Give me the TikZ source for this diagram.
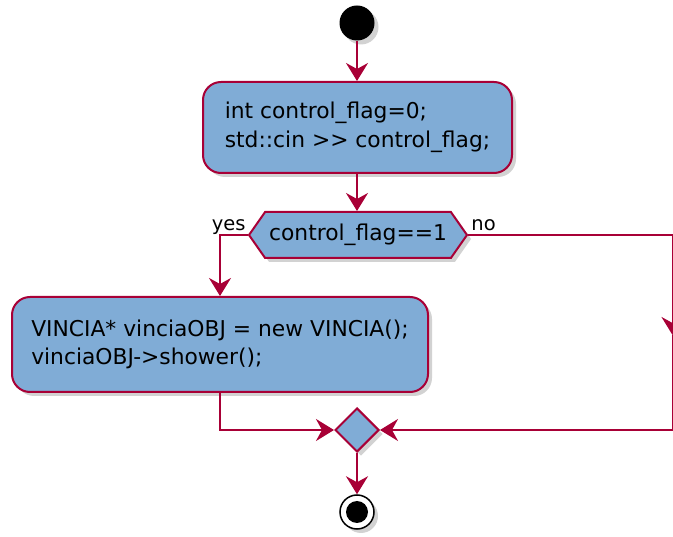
\documentclass[tikz,border=0pt]{standalone}
\usepackage{fontspec}
\setmainfont{DejaVu Sans}
\usetikzlibrary{arrows.meta,shapes.geometric,shapes.symbols,shadows}
\definecolor{pfill}{RGB}{128,172,214}
\definecolor{pline}{RGB}{168,0,54}
\begin{document}
\begin{tikzpicture}[x=1pt,y=-1pt,
  every node/.style={font=\fontsize{21.8}{28.5}\selectfont},
  shad/.style={drop shadow={shadow xshift=4pt,shadow yshift=-4pt,fill=black!35}},
  actbox/.style={draw=pline,fill=pfill,line width=2pt,rounded corners=18pt,align=left,inner xsep=0pt,inner ysep=0pt,shad},
  flow/.style={draw=pline,line width=2pt,-{Stealth[length=18pt,width=22pt,inset=6pt]}},
  lbl/.style={font=\fontsize{19.5}{22}\selectfont,inner sep=0pt}]
\useasboundingbox (0,0) rectangle (673,537);
\node[circle,fill=black,minimum size=35pt,inner sep=0pt,shad] (start) at (357,23) {};
\node[actbox,minimum width=309pt,minimum height=91pt] (b1) at (357.5,127.5) {int control\_flag=0;\\std::cin >{}> control\_flag;};
\node[signal,signal to=east and west,signal pointer angle=110,draw=pline,fill=pfill,line width=2pt,minimum width=218pt,minimum height=46pt,inner sep=0pt,shad] (hex) at (358,235) {control\_flag==1};
\node[actbox,minimum width=416pt,minimum height=95pt] (b2) at (220,344.5) {VINCIA* vinciaOBJ = new VINCIA();\\vinciaOBJ->{}shower();};
\node[diamond,draw=pline,fill=pfill,line width=2pt,minimum width=44pt,minimum height=44pt,inner sep=0pt,shad] (m) at (357,430) {};
\node[circle,draw=black,fill=white,line width=1.5pt,minimum size=34pt,inner sep=0pt,shad] (end) at (357,512) {};
\node[circle,fill=black,minimum size=22pt,inner sep=0pt] (endin) at (end.center) {};
\node[lbl,anchor=base east] (yes) at ([xshift=-2pt,yshift=4pt]hex.west) {yes};
\node[lbl,anchor=base west] (no) at ([xshift=3pt,yshift=4pt]hex.east) {no};
\coordinate (r1) at (672.5,235);
\coordinate (rmid) at (672.5,335);
\coordinate (r2) at (672.5,430);
\draw[flow] (start) -- (start |- b1.north);
\draw[flow] (b1.south -| start) -- (start |- hex.north);
\draw[flow] (hex.west) -| (b2.north);
\draw[flow] (hex.east) -- (r1) -- (rmid);
\draw[flow] (rmid) -- (r2) -- (m.east);
\draw[flow] (b2.south) |- (m.west);
\draw[flow] (m.south) -- (end.north);
\end{tikzpicture}
\end{document}
